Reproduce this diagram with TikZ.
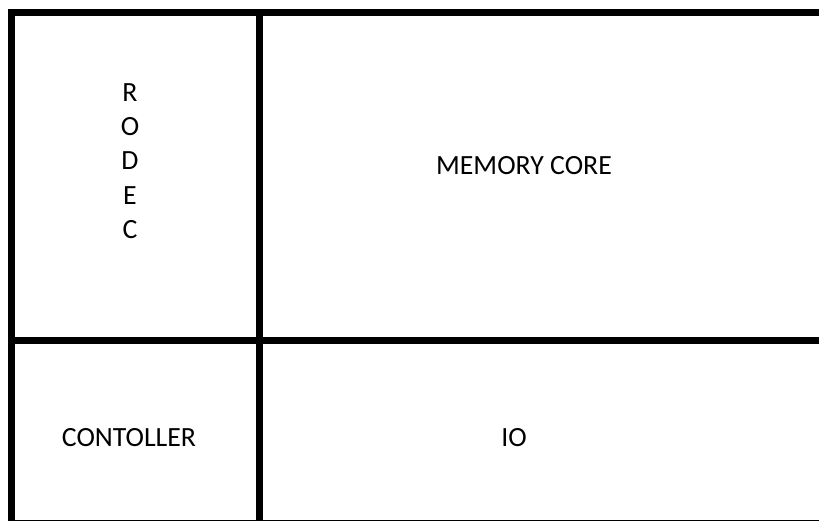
\documentclass[tikz,border=0pt]{standalone}
\usepackage{fontspec}
\setmainfont{Carlito}
\begin{document}
\begin{tikzpicture}[x=1pt,y=1pt,
  frame/.style={line width=7pt,draw=black},
  label/.style={inner sep=0pt,font=\fontsize{27.8}{34.3}\selectfont}]
\useasboundingbox (0,0) rectangle (819,520);
\clip (0,0) rectangle (819,520);
\fill[white] (0,0) rectangle (819,520);
\coordinate (tl) at (11.5,507.5);
\coordinate (br) at (840,-3.5);
\coordinate (vt) at (259.5,507.5);
\coordinate (vb) at (259.5,-3.5);
\coordinate (hl) at (11.5,179.5);
\coordinate (hr) at (840,179.5);
\draw[frame] (tl) rectangle (br);
\draw[frame] (vt) -- (vb);
\draw[frame] (hl) -- (hr);
\node[label,align=center] (rodec) at (130,359) {R\\O\\D\\E\\C};
\node[label] (mem) at (524,354) {MEMORY CORE};
\node[label] (ctl) at (129,82) {CONTOLLER};
\node[label] (io) at (514,82) {IO};
\end{tikzpicture}
\end{document}
